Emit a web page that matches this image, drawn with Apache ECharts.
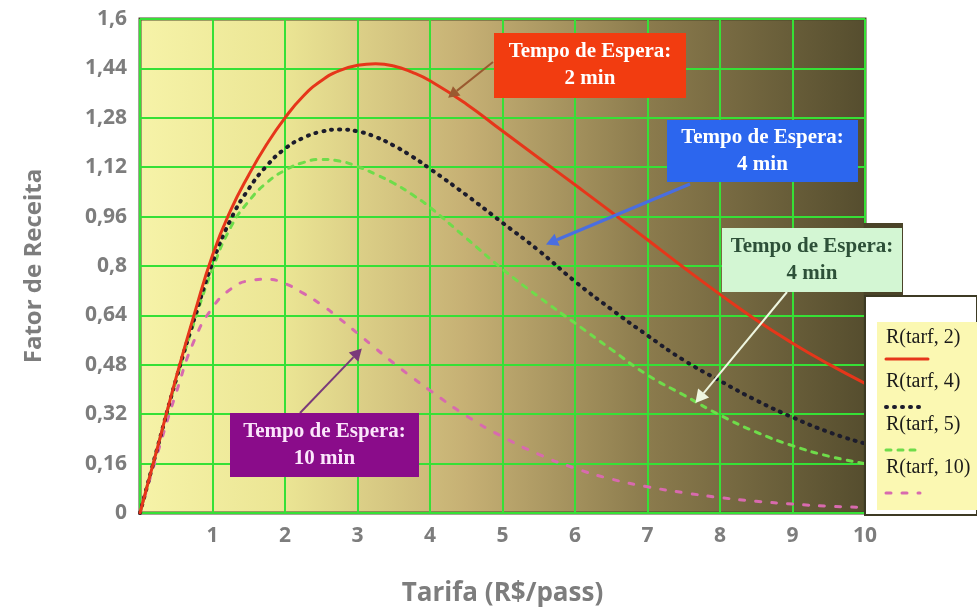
<!DOCTYPE html>
<html>
<head>
<meta charset="utf-8">
<script src="https://cdn.jsdelivr.net/npm/echarts@6/dist/echarts.min.js"></script>
<style>
  html, body { margin: 0; padding: 0; background: #ffffff; }
  #chart { width: 977px; height: 615px; }
</style>
</head>
<body>
<div id="chart"></div>
<script>
// Fare (R$/pass) sample points
const tarifa = [0, 0.25, 0.5, 0.75, 1, 1.25, 1.5, 1.75, 2, 2.25, 2.5, 2.75, 3, 3.25, 3.5, 3.75, 4, 4.5, 5, 5.5, 6, 6.5, 7, 7.5, 8, 8.5, 9, 9.5, 10];

// Revenue factor for each waiting time
const r2  = [0, 0.22, 0.44, 0.645, 0.835, 0.98, 1.095, 1.195, 1.28, 1.35, 1.40, 1.433, 1.45, 1.455, 1.448, 1.428, 1.4, 1.325, 1.237, 1.15, 1.063, 0.975, 0.885, 0.795, 0.708, 0.625, 0.55, 0.482, 0.42];
const r4  = [0, 0.22, 0.435, 0.63, 0.81, 0.95, 1.05, 1.125, 1.18, 1.215, 1.235, 1.242, 1.236, 1.218, 1.19, 1.155, 1.115, 1.03, 0.94, 0.85, 0.75, 0.66, 0.575, 0.495, 0.428, 0.365, 0.31, 0.262, 0.225];
const r5  = [0, 0.22, 0.43, 0.62, 0.79, 0.925, 1.01, 1.07, 1.11, 1.135, 1.145, 1.14, 1.122, 1.097, 1.068, 1.032, 0.99, 0.89, 0.79, 0.70, 0.615, 0.53, 0.447, 0.382, 0.317, 0.262, 0.218, 0.184, 0.16];
const r10 = [0, 0.20, 0.39, 0.56, 0.665, 0.725, 0.752, 0.757, 0.743, 0.712, 0.675, 0.63, 0.582, 0.533, 0.485, 0.44, 0.397, 0.315, 0.247, 0.19, 0.145, 0.11, 0.085, 0.066, 0.05, 0.038, 0.029, 0.022, 0.018];

const seriesNames = ['R(tarf, 2)', 'R(tarf, 4)', 'R(tarf, 5)', 'R(tarf, 10)'];
const seriesValues = [r2, r4, r5, r10];

const xLabelValues = [1, 2, 3, 4, 5, 6, 7, 8, 9, 10];

const styles = [
  { color: '#e6361a', width: 3, type: 'solid' },
  { color: '#1c1c2c', width: 4, type: [1, 7] },
  { color: '#6fdc4a', width: 3, type: [5, 7] },
  { color: '#d86aae', width: 3, type: [5, 11] }
];

const chart = echarts.init(document.getElementById('chart'), null, { renderer: 'canvas' });

const axisFont = { fontFamily: 'Open Sans', fontWeight: 'bold', color: '#7d7d7d' };

chart.setOption({
  animation: false,
  grid: {
    left: 140, right: 112, top: 19, bottom: 102,
    show: true,
    borderColor: '#4b4a2a',
    borderWidth: 3,
    backgroundColor: new echarts.graphic.LinearGradient(0, 0, 1, 0, [
      { offset: 0, color: '#f6f3a8' },
      { offset: 0.2, color: '#ebe594' },
      { offset: 0.45, color: '#c6b074' },
      { offset: 0.7, color: '#8b7b4d' },
      { offset: 1, color: '#554d2e' }
    ])
  },
  xAxis: {
    type: 'value', min: 0, max: 10, interval: 1,
    name: 'Tarifa (R$/pass)', nameLocation: 'middle', nameGap: 68,
    nameTextStyle: Object.assign({ fontSize: 26 }, axisFont),
    axisLine: { show: false }, axisTick: { show: false },
    splitLine: { show: true, lineStyle: { color: '#36e036', width: 2 } },
    axisLabel: Object.assign({
      fontSize: 21, margin: 13,
      formatter: v => (xLabelValues.indexOf(v) >= 0 ? String(v) : '')
    }, axisFont)
  },
  yAxis: {
    type: 'value', min: 0, max: 1.6, interval: 0.16,
    name: 'Fator de Receita', nameLocation: 'middle', nameGap: 94,
    nameTextStyle: Object.assign({ fontSize: 24 }, axisFont),
    axisLine: { show: false }, axisTick: { show: false },
    splitLine: { show: true, lineStyle: { color: '#36e036', width: 2 } },
    axisLabel: Object.assign({
      fontSize: 21, margin: 13,
      formatter: v => String(+v.toFixed(2)).replace('.', ',')
    }, axisFont)
  },
  series: seriesNames.map((name, i) => ({
    name: name,
    type: 'line',
    smooth: 0.5,
    showSymbol: false,
    data: tarifa.map((x, j) => [x, seriesValues[i][j]]),
    lineStyle: { color: styles[i].color, width: styles[i].width, type: styles[i].type, cap: 'round' },
    z: 4 - i
  }))
});

// Arrow helper: shaft plus triangular head ending at the tip
function arrow(from, to, color, width, head) {
  const dx = to[0] - from[0], dy = to[1] - from[1];
  const len = Math.sqrt(dx * dx + dy * dy);
  const ux = dx / len, uy = dy / len;
  const bx = to[0] - ux * head, by = to[1] - uy * head;
  const px = -uy * head * 0.55, py = ux * head * 0.55;
  return [
    { type: 'line', z: 20, shape: { x1: from[0], y1: from[1], x2: bx, y2: by }, style: { stroke: color, lineWidth: width } },
    { type: 'polygon', z: 20, shape: { points: [[to[0], to[1]], [bx + px, by + py], [bx - px, by - py]] }, style: { fill: color } }
  ];
}

function callout(x, y, w, h, fill, textColor, lines) {
  return [
    { type: 'rect', z: 21, shape: { x: x, y: y, width: w, height: h }, style: { fill: fill } },
    {
      type: 'text', z: 22, x: x + w / 2, y: y + h / 2,
      style: {
        text: lines, fill: textColor, align: 'center', verticalAlign: 'middle',
        font: 'bold 21px "Liberation Serif", "Times New Roman", serif', lineHeight: 27
      }
    }
  ];
}

const px = p => chart.convertToPixel({ gridIndex: 0 }, p);

const graphics = [];

// frame pieces at the right edge of the plot
graphics.push({ type: 'rect', z: 10, shape: { x: 864, y: 223, width: 39, height: 73 }, style: { fill: '#4a4328' } });
graphics.push({ type: 'rect', z: 10, shape: { x: 865, y: 296, width: 112, height: 219 }, style: { fill: '#ffffff', stroke: '#3d3a24', lineWidth: 2 } });
graphics.push({ type: 'rect', z: 11, shape: { x: 877, y: 322, width: 100, height: 188 }, style: { fill: '#fbf8b2' } });

// legend: name above its line sample
const legendTop = [338, 382, 425, 468];
const legendLine = [359, 407, 450, 493];
seriesNames.forEach((name, i) => {
  graphics.push({
    type: 'text', z: 12, x: 886, y: legendTop[i],
    style: { text: name, fill: '#1a1a1a', font: '20px "Liberation Serif", "Times New Roman", serif', verticalAlign: 'middle' }
  });
  graphics.push({
    type: 'line', z: 12,
    shape: { x1: 886, y1: legendLine[i], x2: i === 0 ? 928 : 920, y2: legendLine[i] },
    style: { stroke: styles[i].color, lineWidth: styles[i].width, lineDash: styles[i].type === 'solid' ? null : styles[i].type, lineCap: 'round' }
  });
});

// callouts with arrows pointing at their curves
graphics.push(...arrow([493, 62], px([4.25, 1.345]), '#9a5a30', 2, 11));
graphics.push(...callout(494, 33, 192, 65, '#f23c10', '#ffffff', 'Tempo de Espera:\n2 min'));

graphics.push(...arrow([690, 184], px([5.6, 0.87]), '#4a6ee0', 3, 12));
graphics.push(...callout(667, 120, 191, 62, '#2c66ee', '#ffffff', 'Tempo de Espera:\n4 min'));

graphics.push(...arrow([787, 292], px([7.66, 0.356]), '#eef6e0', 2, 13));
graphics.push(...callout(722, 228, 180, 64, '#d3f6d3', '#2d5038', 'Tempo de Espera:\n4 min'));

graphics.push(...arrow([300, 413], px([3.06, 0.533]), '#7a3a7a', 2, 12));
graphics.push(...callout(230, 413, 189, 64, '#8a0c8a', '#fbe6fb', 'Tempo de Espera:\n10 min'));

chart.setOption({ graphic: graphics });
</script>
</body>
</html>
